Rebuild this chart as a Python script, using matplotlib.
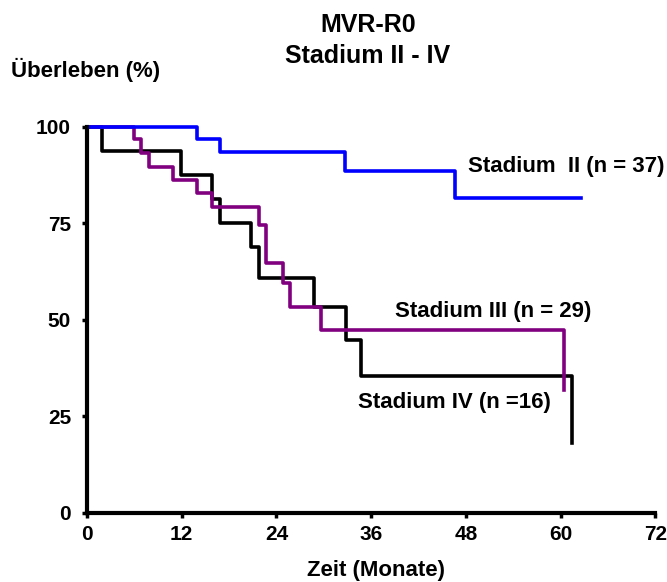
import numpy as np
import matplotlib.pyplot as plt

plt.rcParams['font.family'] = ['Liberation Sans', 'DejaVu Sans']
plt.rcParams['font.weight'] = 'bold'

# Kaplan-Meier steps (months, survival %)
t_ii = [0, 13.9, 16.8, 32.7, 46.6, 62.6]
s_ii = [100, 96.9, 93.6, 88.7, 81.7, 81.7]

t_iii = [0, 5.9, 6.9, 7.9, 10.9, 13.9, 15.8, 21.8, 22.7, 24.8, 25.7, 29.7, 60.5]
s_iii = [100, 96.8, 93.3, 89.7, 86.3, 82.8, 79.4, 74.6, 64.7, 59.5, 53.4, 47.4, 31.9]

t_iv = [0, 1.9, 11.9, 15.9, 16.8, 20.8, 21.8, 28.7, 32.8, 34.7, 61.5]
s_iv = [100, 93.8, 87.5, 81.3, 75.0, 68.8, 61.0, 53.4, 44.8, 35.6, 18.1]

xticks = [0, 12, 24, 36, 48, 60, 72]
yticks = [0, 25, 50, 75, 100]

fig = plt.figure(figsize=(6.67, 5.82), dpi=100)
ax = fig.add_axes([0.1304, 0.1186, 0.852, 0.6632])

lw = 2.6
ax.step(t_iv, s_iv, where='post', color='black', lw=lw, clip_on=False)
ax.step(t_iii, s_iii, where='post', color='#800080', lw=lw, clip_on=False)
ax.step(t_ii, s_ii, where='post', color='#0000ff', lw=lw, clip_on=False)

ax.set_xlim(0, 72)
ax.set_ylim(0, 100)
ax.set_xticks(xticks)
ax.set_yticks(yticks)
ax.tick_params(width=2.5, length=3.5, labelsize=15)
ax.tick_params(axis='x', pad=5)
ax.tick_params(axis='y', pad=8)
for lab in ax.get_xticklabels() + ax.get_yticklabels():
    lab.set_fontweight('bold')

for s in ['top', 'right']:
    ax.spines[s].set_visible(False)
for s in ['left', 'bottom']:
    ax.spines[s].set_linewidth(3.0)

ax.set_xlabel('Zeit (Monate)', fontsize=16, fontweight='bold', va='baseline')
ax.xaxis.set_label_coords(0.508, -0.163)
fig.text(0.0165, 0.8677, 'Überleben (%)', fontsize=16, fontweight='bold',
         ha='left', va='baseline')
fig.text(0.5517, 0.945, 'MVR-R0', fontsize=18, fontweight='bold',
         ha='center', va='baseline')
fig.text(0.5517, 0.8918, 'Stadium II - IV', fontsize=18, fontweight='bold',
         ha='center', va='baseline')

ax.text(48.3, 88.3, 'Stadium  II (n = 37)', fontsize=16, fontweight='bold',
        ha='left', va='baseline')
ax.text(39.0, 50.9, 'Stadium III (n = 29)', fontsize=16, fontweight='bold',
        ha='left', va='baseline')
ax.text(34.4, 27.1, 'Stadium IV (n =16)', fontsize=16, fontweight='bold',
        ha='left', va='baseline')

fig.savefig('out.png', dpi=100)
